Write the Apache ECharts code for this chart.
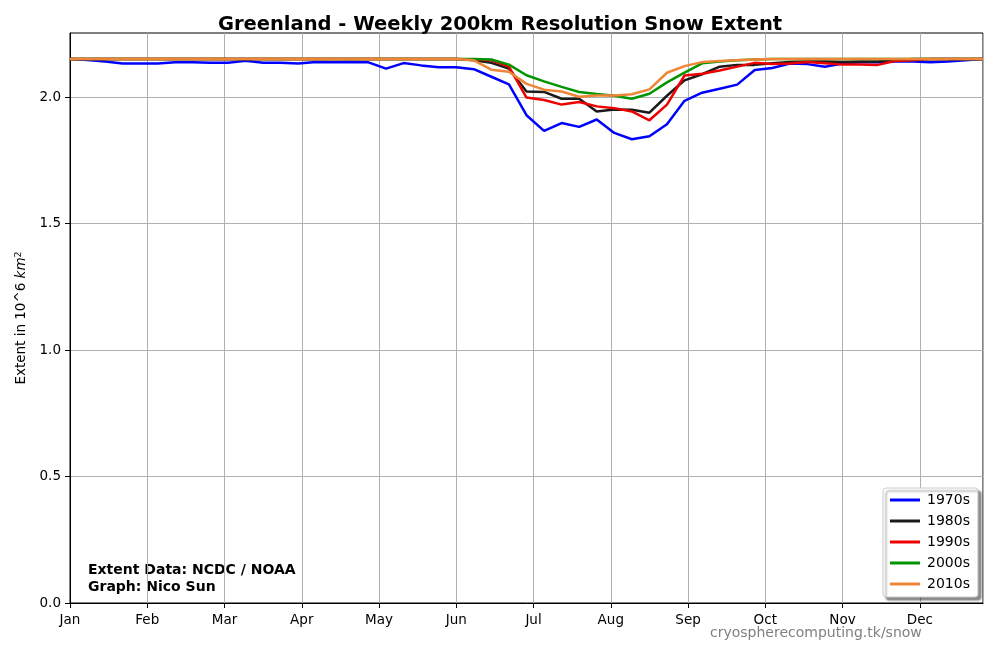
<!DOCTYPE html>
<html>
<head>
<meta charset="utf-8">
<title>Greenland - Weekly 200km Resolution Snow Extent</title>
<script src="https://cdn.jsdelivr.net/npm/echarts@6/dist/echarts.min.js"></script>
<style>
  html, body { margin: 0; padding: 0; background: #fff; }
  #chart { width: 1000px; height: 650px; }
</style>
</head>
<body>
<div id="chart"></div>
<script>
// week index along the year (53 weekly points)
const weeks = [0, 1, 2, 3, 4, 5, 6, 7, 8, 9, 10, 11, 12, 13, 14, 15, 16, 17, 18, 19, 20,
  21, 22, 23, 24, 25, 26, 27, 28, 29, 30, 31, 32, 33, 34, 35, 36, 37, 38, 39, 40, 41,
  42, 43, 44, 45, 46, 47, 48, 49, 50, 51, 52];
const months = ['Jan', 'Feb', 'Mar', 'Apr', 'May', 'Jun', 'Jul', 'Aug', 'Sep', 'Oct', 'Nov', 'Dec'];
const monthStep = 4.4; // weeks between month ticks
const yTicks = [0, 0.5, 1.0, 1.5, 2.0];

const decades = ['1970s', '1980s', '1990s', '2000s', '2010s'];
const colors = ['#0000ff', '#1a1a1a', '#ee0000', '#009400', '#ee8537'];

const ext1970s = [2.150, 2.146, 2.140, 2.132, 2.132, 2.132, 2.137, 2.137, 2.135, 2.135,
  2.143, 2.135, 2.135, 2.132, 2.138, 2.137, 2.138, 2.137, 2.112, 2.134,
  2.125, 2.118, 2.118, 2.110, 2.080, 2.050, 1.928, 1.866, 1.897, 1.882,
  1.911, 1.858, 1.833, 1.845, 1.892, 1.985, 2.017, 2.033, 2.049, 2.107,
  2.115, 2.132, 2.130, 2.120, 2.132, 2.137, 2.137, 2.140, 2.140, 2.137,
  2.140, 2.145, 2.150];
const ext1980s = [2.150, 2.150, 2.150, 2.150, 2.150, 2.150, 2.150, 2.150, 2.150, 2.150,
  2.150, 2.150, 2.150, 2.150, 2.150, 2.150, 2.150, 2.150, 2.150, 2.150,
  2.150, 2.150, 2.150, 2.145, 2.135, 2.112, 2.022, 2.020, 1.993, 1.993,
  1.943, 1.951, 1.950, 1.938, 2.005, 2.066, 2.090, 2.120, 2.127, 2.127,
  2.133, 2.138, 2.140, 2.140, 2.138, 2.140, 2.140, 2.145, 2.150, 2.150,
  2.150, 2.150, 2.150];
const ext1990s = [2.150, 2.150, 2.150, 2.150, 2.150, 2.150, 2.150, 2.150, 2.150, 2.150,
  2.150, 2.150, 2.150, 2.150, 2.150, 2.150, 2.150, 2.150, 2.150, 2.150,
  2.150, 2.150, 2.150, 2.148, 2.145, 2.120, 1.998, 1.988, 1.970, 1.980,
  1.963, 1.956, 1.943, 1.908, 1.970, 2.085, 2.092, 2.105, 2.120, 2.135,
  2.130, 2.132, 2.138, 2.133, 2.128, 2.128, 2.127, 2.142, 2.145, 2.150,
  2.150, 2.150, 2.150];
const ext2000s = [2.150, 2.150, 2.150, 2.150, 2.150, 2.150, 2.150, 2.150, 2.150, 2.150,
  2.150, 2.150, 2.150, 2.150, 2.150, 2.150, 2.150, 2.150, 2.150, 2.150,
  2.150, 2.150, 2.150, 2.150, 2.148, 2.128, 2.086, 2.062, 2.040, 2.020,
  2.012, 2.005, 1.993, 2.013, 2.058, 2.096, 2.133, 2.140, 2.145, 2.148,
  2.150, 2.150, 2.150, 2.150, 2.150, 2.150, 2.150, 2.150, 2.150, 2.150,
  2.150, 2.150, 2.150];
const ext2010s = [2.150, 2.150, 2.150, 2.150, 2.150, 2.150, 2.150, 2.150, 2.150, 2.150,
  2.150, 2.150, 2.150, 2.150, 2.150, 2.150, 2.150, 2.150, 2.150, 2.150,
  2.150, 2.150, 2.150, 2.145, 2.108, 2.100, 2.052, 2.029, 2.022, 2.001,
  2.006, 2.006, 2.011, 2.030, 2.096, 2.122, 2.138, 2.142, 2.145, 2.148,
  2.150, 2.150, 2.150, 2.150, 2.150, 2.150, 2.150, 2.150, 2.150, 2.150,
  2.150, 2.150, 2.150];
const extents = [ext1970s, ext1980s, ext1990s, ext2000s, ext2010s];

const font = 'DejaVu Sans';
const chart = echarts.init(document.getElementById('chart'), null, { renderer: 'canvas' });

const series = decades.map((name, k) => ({
  name: name,
  type: 'line',
  data: weeks.map((w, i) => [w, extents[k][i]]),
  showSymbol: false,
  color: colors[k],
  lineStyle: { color: colors[k], width: 2.5 },
  z: 2 + k,
  animation: false
}));

const options = {
  backgroundColor: '#fff',
  animation: false,
  title: {
    text: 'Greenland - Weekly 200km Resolution Snow Extent',
    left: 'center',
    top: 10,
    textStyle: { fontFamily: font, fontSize: 19.5, fontWeight: 'bold', color: '#000' }
  },
  grid: {
    left: 70, right: 17, top: 33, bottom: 47,
    show: true, borderColor: '#000', borderWidth: 1
  },
  legend: {
    data: decades,
    orient: 'vertical',
    left: 883,
    top: 488,
    padding: [4, 8, 5, 7],
    itemWidth: 30,
    itemHeight: 3,
    itemGap: 5,
    icon: 'rect',
    backgroundColor: '#fff',
    borderColor: '#cccccc',
    borderWidth: 1,
    borderRadius: 3,
    shadowColor: 'rgba(0,0,0,0.45)',
    shadowBlur: 2,
    shadowOffsetX: 3,
    shadowOffsetY: 3,
    textStyle: { fontFamily: font, fontSize: 14, color: '#000', lineHeight: 16, padding: [0, 0, 0, 2] }
  },
  xAxis: {
    type: 'value',
    min: 0,
    max: 52,
    interval: monthStep,
    axisLine: { show: true, lineStyle: { color: '#000' } },
    axisTick: { show: true, length: 5, inside: false, lineStyle: { color: '#000' } },
    axisLabel: {
      fontFamily: font, fontSize: 13.5, color: '#000', margin: 10,
      showMaxLabel: false,
      formatter: v => months[Math.round(v / monthStep)] || ''
    },
    splitLine: { show: true, lineStyle: { color: '#b0b0b0', width: 1 } }
  },
  yAxis: {
    type: 'value',
    min: 0,
    max: 2.253,
    interval: 0.5,
    name: 'Extent in 10^6 {i|km}{s|2}',
    nameLocation: 'middle',
    nameGap: 38,
    nameRotate: 90,
    nameTextStyle: {
      fontFamily: font, fontSize: 13.5, color: '#000',
      rich: {
        i: { fontFamily: font, fontSize: 13.5, fontStyle: 'italic', color: '#000' },
        s: { fontFamily: font, fontSize: 9.5, color: '#000', verticalAlign: 'top', padding: [0, 0, 6, 0] }
      }
    },
    axisLine: { show: true, lineStyle: { color: '#000' } },
    axisTick: { show: true, length: 5, inside: false, customValues: yTicks, lineStyle: { color: '#000' } },
    axisLabel: {
      fontFamily: font, fontSize: 13.5, color: '#000', margin: 9,
      customValues: yTicks,
      formatter: v => v.toFixed(1)
    },
    splitLine: { show: true, lineStyle: { color: '#b0b0b0', width: 1 } }
  },
  graphic: [
    {
      type: 'text', left: 88, top: 562,
      style: {
        text: 'Extent Data: NCDC / NOAA\nGraph: Nico Sun',
        fontFamily: font, fontSize: 14, fontWeight: 'bold', fill: '#000', lineHeight: 17
      }
    },
    {
      type: 'text', left: 710, top: 626,
      style: {
        text: 'cryospherecomputing.tk/snow',
        fontFamily: font, fontSize: 14, fill: '#808080'
      }
    }
  ],
  series: series
};

chart.setOption(options);
</script>
</body>
</html>
